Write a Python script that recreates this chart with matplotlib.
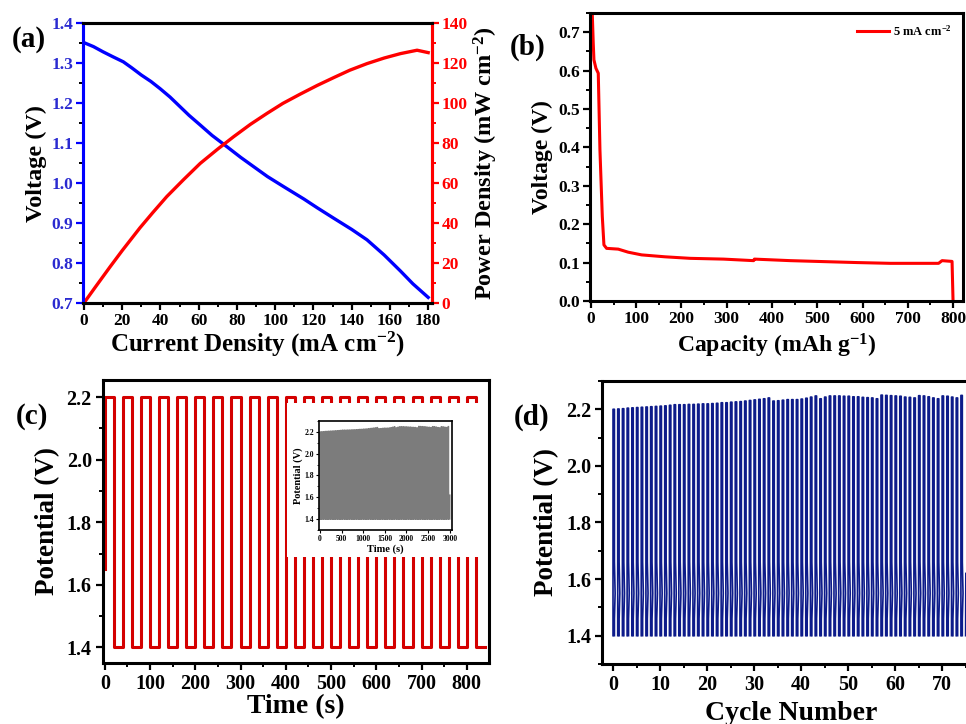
import matplotlib
matplotlib.use("Agg")
import matplotlib.pyplot as plt
from matplotlib.ticker import MultipleLocator
from matplotlib.patches import Rectangle
import numpy as np

plt.rcParams['font.family'] = 'Liberation Serif'
plt.rcParams['font.weight'] = 'bold'
plt.rcParams['axes.labelweight'] = 'bold'
plt.rcParams['mathtext.fontset'] = 'custom'
plt.rcParams['mathtext.rm'] = 'Liberation Serif:bold'
plt.rcParams['mathtext.bf'] = 'Liberation Serif:bold'
plt.rcParams['mathtext.default'] = 'rm'

# (a) polarization and power density
a_curr_v = [0, 5, 10, 15, 20.6, 25, 30, 35, 39.8, 45, 50, 55, 60.8, 67, 74.7, 82, 88.7,
            96, 104.4, 115, 122, 130.6, 140, 148, 157, 165.5, 172, 180]
a_volt = [1.351, 1.341, 1.328, 1.316, 1.303, 1.288, 1.270, 1.254, 1.236, 1.215, 1.192,
          1.169, 1.145, 1.119, 1.091, 1.064, 1.041, 1.016, 0.991, 0.960, 0.938, 0.912,
          0.884, 0.858, 0.820, 0.780, 0.748, 0.714]
a_curr_p = [0, 6, 13.6, 20, 29.3, 36, 43.3, 52, 60.8, 70, 78.2, 87, 95.7, 104, 113, 122,
            130.6, 139, 148, 157, 165.5, 174.2, 180]
a_power = [0, 8.0, 18.0, 26.2, 37.6, 45.2, 53.2, 61.6, 69.8, 77.0, 83.1, 89.3, 94.8,
           99.8, 104.4, 108.8, 112.7, 116.4, 119.7, 122.5, 124.7, 126.4, 125.2]

# (b) discharge curve
b_cap = [1.5, 2.9, 5.1, 6.6, 11, 16.2, 19.9, 25.1, 28.7, 34.6, 60.3, 82.4, 112, 163.5,
         219.5, 293, 359.5, 361, 440.5, 514, 588, 661.5, 768, 775.7, 797.8, 800]
b_volt = [0.80, 0.749, 0.671, 0.628, 0.606, 0.593, 0.393, 0.220, 0.146, 0.137, 0.135,
          0.127, 0.120, 0.115, 0.111, 0.109, 0.105, 0.109, 0.105, 0.1025, 0.100, 0.098,
          0.098, 0.105, 0.103, 0.0]

# (c) charge/discharge square wave
c_rise = [0, 40, 80, 120, 160, 200, 240, 280, 320, 360, 400, 440, 480, 520, 560,
          600, 640, 680, 720, 760, 800]
c_high_len = 20
c_start_v = 1.65
c_high = 2.2
c_low = 1.4
c_end = 840

# (d) peak potential for each cycle (also used for the inset, 40 s per cycle)
d_peaks = [2.200, 2.201, 2.202, 2.204, 2.205, 2.206, 2.207, 2.208, 2.209, 2.210,
           2.211, 2.212, 2.214, 2.216, 2.216, 2.216, 2.217, 2.217, 2.218, 2.219,
           2.219, 2.220, 2.221, 2.223, 2.223, 2.225, 2.226, 2.227, 2.229, 2.231,
           2.233, 2.235, 2.237, 2.240, 2.229, 2.230, 2.232, 2.234, 2.234, 2.234,
           2.236, 2.239, 2.243, 2.247, 2.237, 2.243, 2.247, 2.247, 2.247, 2.246,
           2.246, 2.244, 2.244, 2.242, 2.241, 2.240, 2.237, 2.250, 2.249, 2.248,
           2.247, 2.246, 2.243, 2.242, 2.240, 2.248, 2.247, 2.244, 2.240, 2.237,
           2.247, 2.246, 2.243, 2.240, 2.249]
d_last_partial = 1.62
d_bottom = 1.4
d_knee = [1.66, 1.55, 1.46]

inset_sec_per_cycle = 40


def style_ax(ax, lw=2.2):
    for s in ax.spines.values():
        s.set_linewidth(lw)
    ax.tick_params(which='major', direction='out', length=5, width=1.6)
    ax.tick_params(which='minor', direction='out', length=3, width=1.4)
    ax.tick_params(top=False, right=False)


def cycle_trace(peaks, scale):
    xs, ys = [], []
    for i, p in enumerate(peaks):
        x0 = i * scale
        xd = x0 + 0.3 * scale
        xs += [x0, x0, xd, xd, x0 + 0.45 * scale, xd, xd, np.nan]
        ys += [d_bottom, p, p, d_knee[0], d_knee[1], d_knee[2], d_bottom, np.nan]
    n = len(peaks) * scale
    xs += [n, n + 0.05 * scale]
    ys += [d_bottom, d_last_partial]
    return xs, ys


fig = plt.figure(figsize=(9.66, 7.24), dpi=100)

# ---------- (a)
ax = fig.add_axes([0.0859, 0.5815, 0.3613, 0.3867])
style_ax(ax)
ax.plot(a_curr_v, a_volt, color='#0000ff', lw=2.4)
ax.set_xlim(-0.5, 182)
ax.set_ylim(0.7, 1.4)
ax.xaxis.set_major_locator(MultipleLocator(20))
ax.xaxis.set_minor_locator(MultipleLocator(10))
ax.yaxis.set_major_locator(MultipleLocator(0.1))
ax.yaxis.set_minor_locator(MultipleLocator(0.05))
ax.tick_params(axis='both', labelsize=12.5, pad=2)
ax.tick_params(axis='y', colors='#0000ff', labelcolor='#2a2ad0')
ax.spines['left'].set_color('#0000ff')
ax.set_xlabel('Current Density (mA cm$^{-2}$)', fontsize=18, labelpad=1)
ax.set_ylabel('Voltage (V)', fontsize=17.5, labelpad=3)
ax2 = ax.twinx()
ax2.plot(a_curr_p, a_power, color='#ff0000', lw=2.4)
ax2.set_ylim(0, 140)
ax2.yaxis.set_major_locator(MultipleLocator(20))
ax2.yaxis.set_minor_locator(MultipleLocator(10))
for s in ax2.spines.values():
    s.set_linewidth(2.2)
ax2.spines['right'].set_color('#ff0000')
ax2.spines['left'].set_color('#0000ff')
ax2.tick_params(which='major', direction='out', length=5, width=1.6, colors='#ff0000',
                labelsize=12.5, pad=2)
ax2.tick_params(which='minor', direction='out', length=3, width=1.4, colors='#ff0000')
ax2.set_ylabel('Power Density (mW cm$^{-2}$)', fontsize=17.5, labelpad=3)

# ---------- (b)
bx = fig.add_axes([0.6108, 0.5843, 0.3861, 0.3978])
style_ax(bx)
bx.plot(b_cap, b_volt, color='#ff0000', lw=2.2, label='5 mA cm$^{-2}$')
bx.set_xlim(-2, 822)
bx.set_ylim(0, 0.75)
bx.xaxis.set_major_locator(MultipleLocator(100))
bx.xaxis.set_minor_locator(MultipleLocator(50))
bx.yaxis.set_major_locator(MultipleLocator(0.1))
bx.yaxis.set_minor_locator(MultipleLocator(0.05))
bx.tick_params(axis='both', labelsize=12.5, pad=2)
bx.set_xlabel('Capacity (mAh g$^{-1}$)', fontsize=17, labelpad=4)
bx.set_ylabel('Voltage (V)', fontsize=17, labelpad=4)
bx.legend(loc='upper right', frameon=False, fontsize=9, handlelength=2.6,
          borderaxespad=0.5, handletextpad=0.3)

# ---------- (c)
cx = fig.add_axes([0.1066, 0.0843, 0.3996, 0.3909])
style_ax(cx)
ct, cv = [0], [c_start_v]
for k, r in enumerate(c_rise):
    nxt = c_rise[k + 1] if k + 1 < len(c_rise) else c_end
    ct += [r, r + c_high_len, r + c_high_len, nxt]
    cv += [c_high, c_high, c_low, c_low]
cx.plot(ct, cv, color='#d40000', lw=2.2, zorder=2)
cx.set_xlim(-4, 849)
cx.set_ylim(1.35, 2.255)
cx.xaxis.set_major_locator(MultipleLocator(100))
cx.xaxis.set_minor_locator(MultipleLocator(50))
cx.yaxis.set_major_locator(MultipleLocator(0.2))
cx.yaxis.set_minor_locator(MultipleLocator(0.1))
cx.tick_params(axis='both', labelsize=14.5, pad=3)
cx.set_xlabel('Time (s)', fontsize=20, labelpad=0)
cx.set_ylabel('Potential (V)', fontsize=19.5, labelpad=5)
cx.add_patch(Rectangle((0.2971, 0.2307), 0.1998, 0.2127, transform=fig.transFigure,
                       facecolor='white', edgecolor='none', zorder=5))

# inset
ix = fig.add_axes([0.3302, 0.2680, 0.1377, 0.1506])
for s in ix.spines.values():
    s.set_linewidth(1.2)
ix_x, ix_y = cycle_trace(d_peaks, inset_sec_per_cycle)
ix.plot(ix_x, ix_y, color='#7c7c7c', lw=0.9)
ix.set_xlim(-20, 3050)
ix.set_ylim(1.3, 2.3)
ix.xaxis.set_major_locator(MultipleLocator(500))
ix.yaxis.set_major_locator(MultipleLocator(0.2))
ix.yaxis.set_minor_locator(MultipleLocator(0.1))
ix.tick_params(which='major', direction='out', length=2, width=0.8, labelsize=5.5, pad=1.5)
ix.tick_params(which='minor', direction='out', length=1.2, width=0.6)
ix.set_xlabel('Time (s)', fontsize=7.5, labelpad=1)
ix.set_ylabel('Potential (V)', fontsize=7.5, labelpad=1)

# ---------- (d)
dx = fig.add_axes([0.6232, 0.0829, 0.391, 0.3909])
style_ax(dx)
d_x, d_y = cycle_trace(d_peaks, 1)
dx.plot(d_x, d_y, color='#0d1b8a', lw=1.2)
dx.set_xlim(-2.34, 78)
dx.set_ylim(1.3, 2.3)
dx.xaxis.set_major_locator(MultipleLocator(10))
dx.xaxis.set_minor_locator(MultipleLocator(5))
dx.yaxis.set_major_locator(MultipleLocator(0.2))
dx.yaxis.set_minor_locator(MultipleLocator(0.1))
dx.tick_params(axis='both', labelsize=14.5, pad=3)
dx.set_xlabel('Cycle Number', fontsize=20, labelpad=4)
dx.set_ylabel('Potential (V)', fontsize=19.5, labelpad=5)

# panel letters
fig.text(0.012, 0.935, '(a)', fontsize=21, fontweight='bold')
fig.text(0.528, 0.925, '(b)', fontsize=21, fontweight='bold')
fig.text(0.016, 0.415, '(c)', fontsize=21, fontweight='bold')
fig.text(0.532, 0.413, '(d)', fontsize=21, fontweight='bold')

fig.savefig('out.png', dpi=100, facecolor='white')
